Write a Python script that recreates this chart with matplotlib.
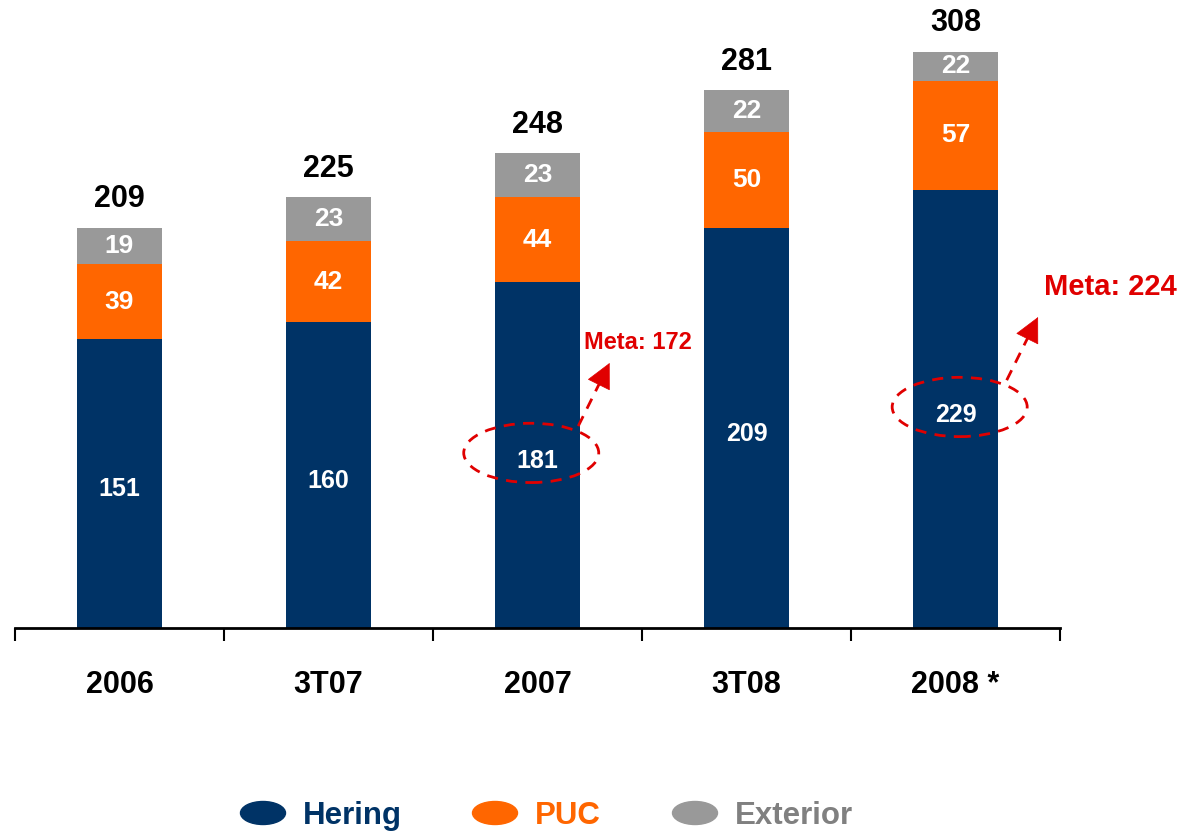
import matplotlib.pyplot as plt
import numpy as np
from matplotlib.patches import Ellipse

categories = ["2006", "3T07", "2007", "3T08", "2008 *"]
hering = [151, 160, 181, 209, 229]
puc = [39, 42, 44, 50, 57]
exterior = [19, 23, 23, 22, 22]
metas = [(2, 172), (4, 224)]

NAVY = "#003366"
ORANGE = "#FF6600"
GRAY = "#999999"
RED = "#E00000"

plt.rcParams["font.family"] = ["Liberation Sans", "DejaVu Sans"]
plt.rcParams["font.weight"] = "bold"


def main():
    fig = plt.figure(figsize=(11.8, 8.34), dpi=100)
    ax = fig.add_axes([15 / 1180, 206 / 834, 1045 / 1180, 576 / 834])
    ymax = 301
    x = np.arange(len(categories))
    w = 0.41

    h = np.array(hering)
    p = np.array(puc)
    e = np.array(exterior)
    ax.bar(x, h, w, color=NAVY)
    ax.bar(x, p, w, bottom=h, color=ORANGE)
    ax.bar(x, e, w, bottom=h + p, color=GRAY)

    for i in range(len(x)):
        ax.text(x[i], h[i] / 2 - 3, str(h[i]), ha="center", va="center",
                color="white", fontsize=18, fontweight="bold")
        ax.text(x[i], h[i] + p[i] / 2, str(p[i]), ha="center", va="center",
                color="white", fontsize=19, fontweight="bold")
        top = min(h[i] + p[i] + e[i], ymax)
        ax.text(x[i], (h[i] + p[i] + top) / 2, str(e[i]), ha="center", va="center",
                color="white", fontsize=19, fontweight="bold")
        total = h[i] + p[i] + e[i]
        ax.text(x[i], top + 15, str(total), ha="center", va="center",
                color="black", fontsize=22, fontweight="bold", clip_on=False)

    # meta annotations: ellipse around the Hering value, arrow up to the target
    ell_dx = {2: -0.03, 4: 0.02}
    text_pos = {2: (0.48, 149), 4: (0.74, 178)}
    sizes = {2: 17, 4: 21}
    for i, val in metas:
        cx = x[i] + ell_dx[i]
        cy = h[i] / 2 + 1
        ell = Ellipse((cx, cy), 0.646, 31, fill=False, ec=RED, lw=2,
                      ls=(0, (4, 3)), clip_on=False, zorder=5)
        ax.add_patch(ell)
        x0, y0 = cx + 0.225, cy + 14
        x1, y1 = x0 + 0.15, y0 + 33
        # dashed shaft, then a solid head
        ax.plot([x0, x0 + 0.8 * (x1 - x0)], [y0, y0 + 0.8 * (y1 - y0)],
                color=RED, lw=2, ls=(0, (4, 3)), clip_on=False)
        ax.annotate("", xy=(x1, y1), xytext=(x0 + 0.7 * (x1 - x0), y0 + 0.7 * (y1 - y0)),
                    arrowprops=dict(arrowstyle="-|>,head_length=0.7,head_width=0.35",
                                    color=RED, lw=0.5, mutation_scale=24,
                                    shrinkA=0, shrinkB=0),
                    annotation_clip=False)
        tx, ty = text_pos[i]
        ax.text(x[i] + tx, ty, f"Meta: {val}", ha="center", va="center",
                color=RED, fontsize=sizes[i], fontweight="bold", clip_on=False)

    ax.set_xlim(-0.5, len(categories) - 0.5)
    ax.set_ylim(0, ymax)
    for s in ["left", "right", "top"]:
        ax.spines[s].set_visible(False)
    ax.spines["bottom"].set_linewidth(2)
    ax.set_yticks([])
    ax.set_xticks(x)
    ax.set_xticklabels(categories, fontsize=22, fontweight="bold")
    ax.tick_params(axis="x", which="major", length=0, pad=30)
    ax.set_xticks(np.arange(-0.5, len(categories)), minor=True)
    ax.tick_params(axis="x", which="minor", length=9, width=1.5, direction="out")

    # legend
    items = [("Hering", NAVY, NAVY, 263), ("PUC", ORANGE, ORANGE, 495),
             ("Exterior", GRAY, "#808080", 695)]
    for label, mc, tc, px in items:
        fig.patches.append(Ellipse((px / 1180, 21 / 834), 45 / 1180, 23 / 834,
                                   color=mc, transform=fig.transFigure))
        fig.text((px + 40) / 1180, 18 / 834, label, ha="left", va="center",
                 color=tc, fontsize=22.5, fontweight="bold")

    fig.savefig("out.png", dpi=100)


if __name__ == "__main__":
    main()
